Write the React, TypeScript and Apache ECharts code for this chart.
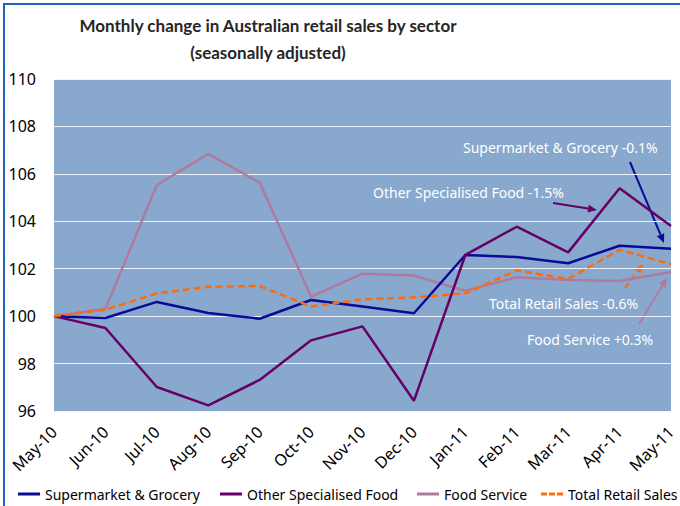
import React, { useEffect, useRef } from "react";
import * as echarts from "echarts";

const months = ["May-10", "Jun-10", "Jul-10", "Aug-10", "Sep-10", "Oct-10", "Nov-10", "Dec-10", "Jan-11", "Feb-11", "Mar-11", "Apr-11", "May-11"];
const supermarket = [100, 99.92, 100.6, 100.13, 99.89, 100.68, 100.41, 100.12, 102.58, 102.49, 102.23, 102.97, 102.84];
const otherFood = [100, 99.5, 97.01, 96.24, 97.31, 98.98, 99.57, 96.43, 102.58, 103.77, 102.69, 105.39, 103.8];
const foodService = [100, 100.31, 105.53, 106.84, 105.63, 100.82, 101.79, 101.71, 101.07, 101.64, 101.52, 101.48, 101.86];
const totalRetail = [100, 100.27, 100.96, 101.24, 101.27, 100.41, 100.71, 100.79, 100.96, 101.93, 101.57, 102.8, 102.19];
const seriesNames = ["Supermarket & Grocery", "Other Specialised Food", "Food Service", "Total Retail Sales"];
const yTicks = { min: 96, max: 110, interval: 2 };

const C_BLUE = "#0A0A99";
const C_PURPLE = "#660066";
const C_PINK = "#B07A9F";
const C_ORANGE = "#FF6A0D";
const FONT = "Noto Sans";

const SOLID_ICON = "path://M0,0 H22 V3 H0 Z";
const DASH_ICON = "path://M0,0 H6 V3 H0 Z M8,0 H14 V3 H8 Z M16,0 H22 V3 H16 Z";

function arrow(x1: number, y1: number, x2: number, y2: number, color: string, dashed = false) {
  const dx = x2 - x1, dy = y2 - y1;
  const len = Math.sqrt(dx * dx + dy * dy);
  const ux = dx / len, uy = dy / len;
  const hl = 9, hw = 4;
  const bx = x2 - ux * hl, by = y2 - uy * hl;
  return {
    type: "group",
    children: [
      {
        type: "line",
        shape: { x1, y1, x2: bx, y2: by },
        style: { stroke: color, lineWidth: 2, lineDash: dashed ? [6, 4] : null },
      },
      {
        type: "polygon",
        shape: { points: [[x2, y2], [bx - uy * hw, by + ux * hw], [bx + uy * hw, by - ux * hw]] },
        style: { fill: color },
      },
    ],
  };
}

function annot(text: string, x: number, y: number) {
  return {
    type: "text",
    x,
    y,
    style: { text, fill: "#FFFFFF", font: `14px "${FONT}"`, textAlign: "left", textVerticalAlign: "middle" },
  };
}

export default function App() {
  const ref = useRef<HTMLDivElement>(null);
  useEffect(() => {
    if (!ref.current) return;
    const chart = echarts.init(ref.current, null, { renderer: "svg" });
    const legendPos = [18, 220, 417, 541];
    chart.setOption({
      animation: false,
      backgroundColor: "#FFFFFF",
      grid: { left: 54, right: 9, top: 79, bottom: 95, show: true, backgroundColor: "#88A9CD", borderWidth: 0 },
      legend: seriesNames.map((n, i) => ({
        data: [{ name: n, icon: i === 3 ? DASH_ICON : SOLID_ICON }],
        left: legendPos[i],
        top: 487,
        itemWidth: 22,
        itemHeight: 3,
        padding: 0,
        textStyle: { fontFamily: FONT, fontSize: 14, color: "#000" },
      })),
      xAxis: {
        type: "category",
        data: months,
        boundaryGap: false,
        axisLine: { show: false },
        axisTick: { show: false },
        axisLabel: { rotate: 45, interval: 0, fontFamily: FONT, fontSize: 16, color: "#000", margin: 18 },
        splitLine: { show: false },
      },
      yAxis: {
        type: "value",
        min: yTicks.min,
        max: yTicks.max,
        interval: yTicks.interval,
        axisLine: { show: false },
        axisTick: { show: false },
        axisLabel: { fontFamily: FONT, fontSize: 16, color: "#000", margin: 18 },
        splitLine: { lineStyle: { color: "#EEF3F9", width: 1 } },
      },
      series: [
        { name: seriesNames[0], type: "line", data: supermarket, symbol: "none", lineStyle: { color: C_BLUE, width: 2.5 }, itemStyle: { color: C_BLUE }, z: 3 },
        { name: seriesNames[1], type: "line", data: otherFood, symbol: "none", lineStyle: { color: C_PURPLE, width: 2.5 }, itemStyle: { color: C_PURPLE }, z: 4 },
        { name: seriesNames[2], type: "line", data: foodService, symbol: "none", lineStyle: { color: C_PINK, width: 2.5 }, itemStyle: { color: C_PINK }, z: 2 },
        { name: seriesNames[3], type: "line", data: totalRetail, symbol: "none", lineStyle: { color: C_ORANGE, width: 2.5, type: [7, 4] }, itemStyle: { color: C_ORANGE }, z: 5 },
      ],
      graphic: [
        { type: "rect", shape: { x: 4, y: 4, width: 720, height: 620 }, style: { fill: "none", stroke: "#2363C0", lineWidth: 2 }, silent: true },
        {
          type: "text",
          x: 268,
          y: 25,
          style: { text: "Monthly change in Australian retail sales by sector", fill: "#262626", font: `bold 17px Lato`, textAlign: "center", textVerticalAlign: "middle" },
        },
        {
          type: "text",
          x: 268,
          y: 52,
          style: { text: "(seasonally adjusted)", fill: "#262626", font: `bold 17px Lato`, textAlign: "center", textVerticalAlign: "middle" },
        },
        annot("Supermarket & Grocery -0.1%", 463, 147),
        annot("Other Specialised Food -1.5%", 373, 192),
        annot("Total Retail Sales -0.6%", 489, 303),
        annot("Food Service +0.3%", 527, 339),
        arrow(630, 162, 664, 243, C_BLUE),
        arrow(553, 203, 597, 210, C_PURPLE),
        arrow(625, 288, 643, 264, C_ORANGE, true),
        arrow(639, 324, 667, 278, C_PINK),
      ],
    });
    return () => chart.dispose();
  }, []);
  return <div ref={ref} style={{ position: "absolute", left: 0, top: 0, width: 680, height: 506 }} />;
}
